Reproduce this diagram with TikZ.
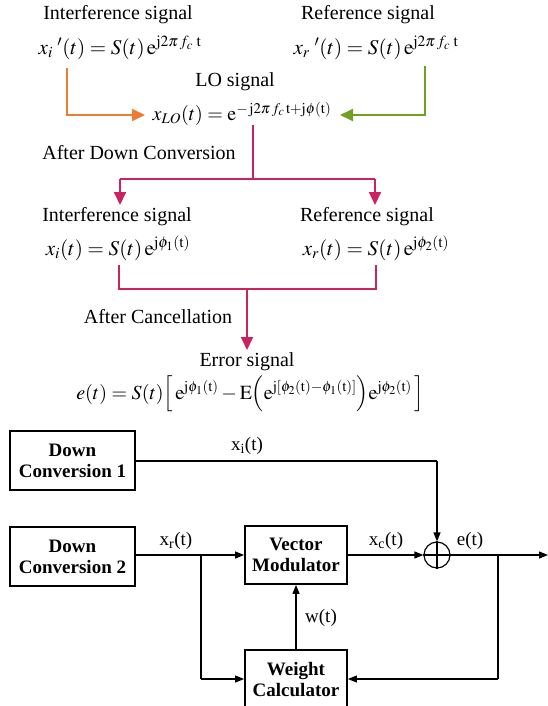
\documentclass[tikz,border=0pt]{standalone}
\usepackage{mathptmx}
\usepackage[no-math]{fontspec}
\setmainfont{Liberation Serif}
\usetikzlibrary{arrows.meta}
\definecolor{org}{HTML}{ED7D31}
\definecolor{grn}{HTML}{70A023}
\definecolor{mag}{HTML}{CC2262}
\begin{document}
\begin{tikzpicture}[x=1pt,y=-1pt,
  lbl/.style={font=\fontsize{20}{24}\selectfont, inner sep=0pt},
  eq/.style={font=\fontsize{21}{24}\selectfont, inner sep=0pt},
  carrow/.style={line width=2pt, -{Triangle[length=13pt,width=12pt]}},
  cline/.style={line width=2pt},
  blk/.style={draw, line width=1.8pt, font=\fontsize{19}{21}\selectfont\bfseries, align=center, minimum width=125pt, minimum height=59pt, inner sep=0pt},
  sig/.style={line width=1.2pt, -{Triangle[length=9pt,width=7pt]}},
  sigl/.style={line width=1.2pt},
  slbl/.style={font=\fontsize{19}{23}\selectfont, inner sep=0pt}]
\useasboundingbox (0,0) rectangle (548,706);
% ---- top part ----
\node[lbl] (t1) at (118,15) {Interference signal};
\node[lbl] (t2) at (368,15) {Reference signal};
\node[eq] (f1) at (120,48) {$x_i\;'(t) = S(t)\,\mathrm{e}^{\mathrm{j}2\pi\, f_c\;\mathrm{t}}$};
\node[eq] (f2) at (376,48) {$x_r\;'(t) = S(t)\,\mathrm{e}^{\mathrm{j}2\pi\, f_c\;\mathrm{t}}$};
\node[lbl] (t3) at (235,82) {LO signal};
\node[eq, font=\fontsize{20}{24}\selectfont] (flo) at (242,114) {$x_{LO}(t) = \mathrm{e}^{-\,\mathrm{j}2\pi\, f_c\,\mathrm{t}+\mathrm{j}\phi(\mathrm{t})}$};
\coordinate (o1) at (67,68);
\coordinate (g1) at (425,66);
\coordinate (oe) at (145,115);
\coordinate (ge) at (340,115);
\draw[carrow, org] (o1) |- (oe);
\draw[carrow, grn] (g1) |- (ge);
\node[lbl] (t4) at (139,153) {After Down Conversion};
\coordinate (m0) at (253,125);
\coordinate (m1) at (253,179);
\coordinate (ml) at (120,179);
\coordinate (mr) at (375,179);
\coordinate (mlt) at (120,205);
\coordinate (mrt) at (375,205);
\draw[cline, mag] (m0) -- (m1);
\draw[cline, mag] (ml) -- (mr);
\draw[carrow, mag] (ml) -- (mlt);
\draw[carrow, mag] (mr) -- (mrt);
% ---- middle ----
\node[lbl] (t5) at (117,217) {Interference signal};
\node[lbl] (t6) at (367,217) {Reference signal};
\node[eq] (f3) at (118,248) {$x_i(t) = S(t)\,\mathrm{e}^{\mathrm{j}\phi_1(\mathrm{t})}$};
\node[eq] (f4) at (376,248) {$x_r(t) = S(t)\,\mathrm{e}^{\mathrm{j}\phi_2(\mathrm{t})}$};
\coordinate (n1) at (119,265);
\coordinate (n2) at (376,265);
\coordinate (n1b) at (119,289);
\coordinate (n2b) at (376,289);
\coordinate (nc) at (247,289);
\coordinate (nt) at (247,350);
\draw[cline, mag] (n1) -- (n1b) -- (n2b) -- (n2);
\draw[carrow, mag] (nc) -- (nt);
\node[lbl] (t7) at (158,317) {After Cancellation};
\node[lbl] (t8) at (247,362) {Error signal};
\node[eq, font=\fontsize{20}{24}\selectfont] (f5) at (250,394) {$e(t) = S(t)\Big[\,\mathrm{e}^{\mathrm{j}\phi_1(\mathrm{t})} - \mathrm{E}\Big(\mathrm{e}^{\mathrm{j}[\phi_2(\mathrm{t})-\phi_1(\mathrm{t})]}\Big)\mathrm{e}^{\mathrm{j}\phi_2(\mathrm{t})}\,\Big]$};
% ---- block diagram ----
\node[blk] (dc1) at (72.5,460.5) {Down\\Conversion 1};
\node[blk] (dc2) at (72.5,556.5) {Down\\Conversion 2};
\node[blk, minimum width=102pt, minimum height=58pt] (vm) at (296,555) {Vector\\Modulator};
\node[blk, minimum width=102pt, minimum height=60pt] (wc) at (296,680) {Weight\\Calculator};
\node[draw, circle, line width=1.2pt, minimum size=26pt, inner sep=0pt] (sum) at (437,555) {};
\draw[line width=1.2pt] (sum.north) -- (sum.south) (sum.west) -- (sum.east);
\coordinate (ci) at (437,461);
\coordinate (br1) at (201,555);
\coordinate (br1d) at (201,679);
\coordinate (br2) at (498,555);
\coordinate (br2d) at (498,679);
\coordinate (out) at (548,555);
\draw[sigl] (dc1.east |- ci) -- (ci);
\draw[sig] (ci) -- (sum.north);
\draw[sig] (dc2.east |- br1) -- (vm.west);
\draw[sigl] (br1) -- (br1d);
\draw[sig] (br1d) -- (br1d -| wc.west);
\draw[sig] (vm.east) -- (sum.west);
\draw[sig] (sum.east) -- (out);
\draw[sigl] (br2) -- (br2d);
\draw[sig] (br2d) -- (br2d -| wc.east);
\draw[sig] (wc.north) -- (vm.south);
\node[slbl] (lxi) at (247,446) {x\textsubscript{i}(t)};
\node[slbl] (lxr) at (176,541) {x\textsubscript{r}(t)};
\node[slbl] (lxc) at (386,541) {x\textsubscript{c}(t)};
\node[slbl] (le) at (470,541) {e(t)};
\node[slbl] (lw) at (321,618) {w(t)};
\end{tikzpicture}
\end{document}
